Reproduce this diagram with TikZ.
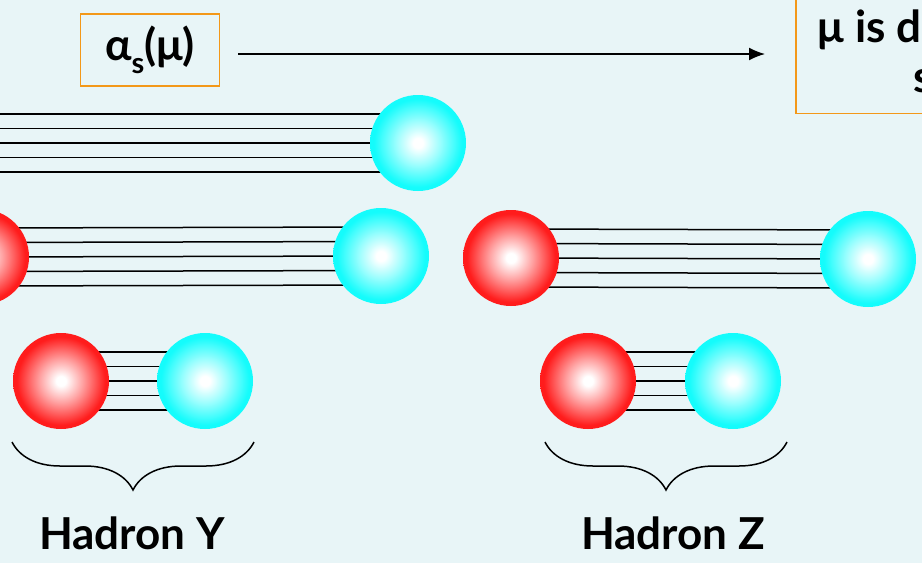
\documentclass[tikz,border=0pt]{standalone}
\usepackage{fontspec}
\setmainfont{Lato}
\usetikzlibrary{arrows.meta,decorations.pathreplacing}

\definecolor{bgcol}{RGB}{232,245,247}
\definecolor{boxorange}{RGB}{243,152,25}
\definecolor{quarkred}{RGB}{255,28,28}
\definecolor{quarkcyan}{RGB}{20,252,252}

% quark balls: white core fading out to the colour
\pgfdeclareradialshading{redball}{\pgfpoint{0bp}{0bp}}{color(0bp)=(white); color(2.5bp)=(white); color(11bp)=(quarkred!40!white); color(23bp)=(quarkred); color(50bp)=(quarkred)}
\pgfdeclareradialshading{cyanball}{\pgfpoint{0bp}{0bp}}{color(0bp)=(white); color(2.5bp)=(white); color(11bp)=(quarkcyan!40!white); color(23bp)=(quarkcyan); color(50bp)=(quarkcyan)}

\pgfdeclarelayer{bg}
\pgfdeclarelayer{strands}
\pgfsetlayers{bg,strands,main}

\tikzset{
  redq/.style={circle, minimum size=96pt, inner sep=0pt, shading=redball},
  cyanq/.style={circle, minimum size=96pt, inner sep=0pt, shading=cyanball},
  strand/.style={line width=1.5pt, black},
  labelbox/.style={draw=boxorange, line width=1.5pt, fill=bgcol, font=\bfseries\fontsize{44}{50}\selectfont},
  hbrace/.style={decorate, decoration={brace, amplitude=48pt, mirror}, line width=1.5pt},
  hname/.style={font=\bfseries\fontsize{44}{44}\selectfont}
}

\begin{document}
\begin{tikzpicture}[x=1pt, y=-1pt]
  \useasboundingbox (0,0) rectangle (922,563);
  \clip (0,0) rectangle (922,563);
  \begin{pgfonlayer}{bg}
    \fill[bgcol] (0,0) rectangle (922,563);
  \end{pgfonlayer}

  % coupling box, arrow and scale box
  \node[labelbox, minimum width=139pt, minimum height=72pt] (alpha) at (150,50)
    {α\raisebox{-0.28em}{\fontsize{29}{29}\selectfont s}(μ)};
  \node[labelbox, anchor=south west, align=center, inner xsep=22pt, inner ysep=20pt] (mu) at (795,114)
    {μ is decreasing\\ scale};
  \draw[line width=1.5pt, -{Latex[length=16pt, width=13pt]}, shorten <=18pt, shorten >=30pt]
    ([yshift=-4pt]alpha.east) -- ([yshift=-4pt]alpha.east -| mu.west);

  % quarks
  \coordinate (s1) at (-10,143);
  \node[cyanq] (c1) at (418,143) {};
  \node[redq]  (r2) at (-19,257) {};
  \node[cyanq] (c2) at (381,256) {};
  \node[redq]  (r3) at (511,258) {};
  \node[cyanq] (c3) at (868,259) {};
  \node[redq]  (r4) at (61,381) {};
  \node[cyanq] (c4) at (205,381) {};
  \node[redq]  (r5) at (588,381) {};
  \node[cyanq] (c5) at (733,381) {};

  % strings between them
  \begin{pgfonlayer}{strands}
    \foreach \a/\b in {s1/c1, r2/c2, r3/c3, r4/c4, r5/c5}
      \foreach \dy in {-29,-14.5,0,14.5,29}
        \draw[strand] ([yshift=\dy pt]\a.center) -- ([yshift=\dy pt]\b.center);
  \end{pgfonlayer}

  % hadrons
  \coordinate (yl) at (12,442);
  \coordinate (yr) at (254,442);
  \coordinate (zl) at (545,442);
  \coordinate (zr) at (787,442);
  \draw[hbrace] (yl) -- (yr);
  \draw[hbrace] (zl) -- (zr);
  \node[hname] (hadY) at (132,533) {Hadron Y};
  \node[hname] (hadZ) at (673,533) {Hadron Z};
\end{tikzpicture}
\end{document}
